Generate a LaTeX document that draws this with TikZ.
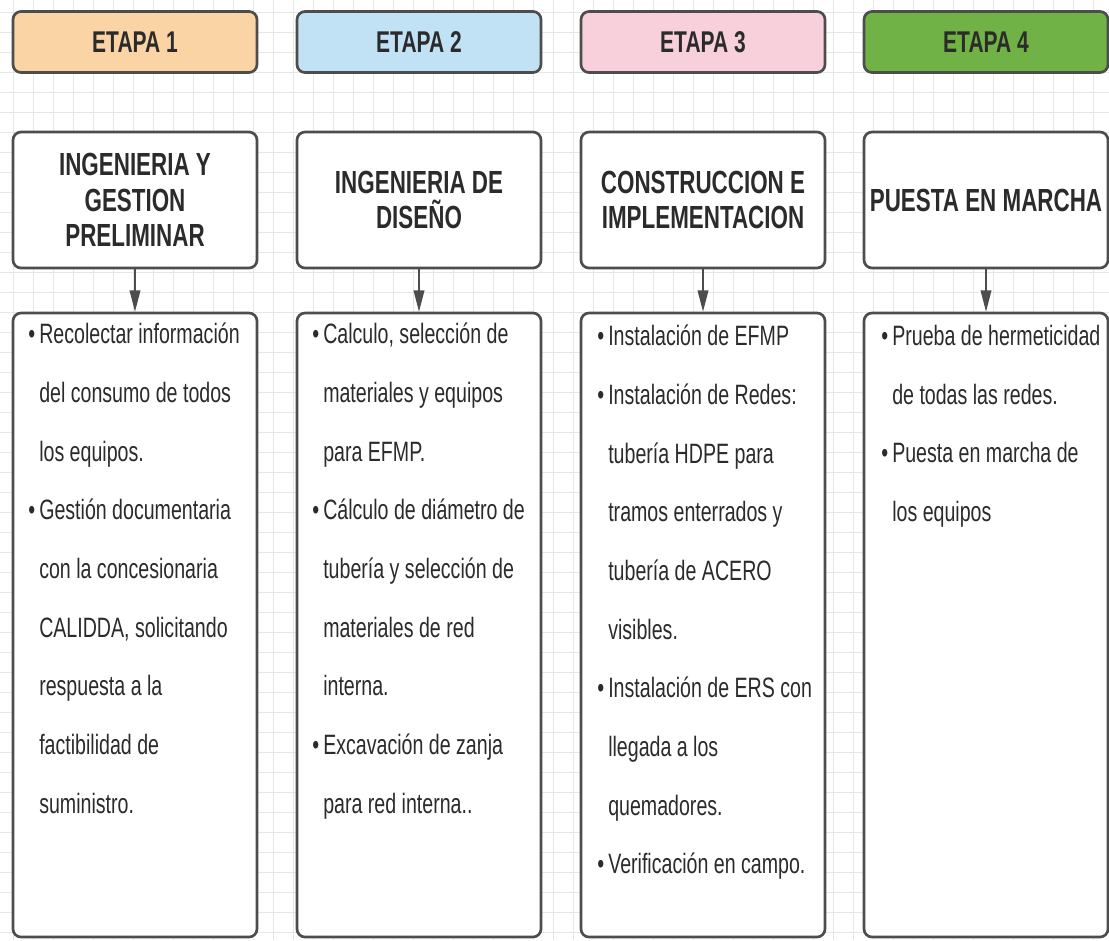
\documentclass[tikz,border=0pt]{standalone}
\usepackage{fontspec}
\setmainfont[FakeStretch=0.7]{Liberation Sans}
\usetikzlibrary{arrows.meta}
\definecolor{borde}{HTML}{4D4D4D}
\definecolor{texto}{HTML}{2B2B2B}
\definecolor{gris}{HTML}{E6E6E6}
\definecolor{naranja}{HTML}{FAD4A5}
\definecolor{celeste}{HTML}{C0E2F4}
\definecolor{rosado}{HTML}{F7D0DB}
\definecolor{verde}{HTML}{70B245}
\newcommand{\punto}{\llap{\textbullet\hspace{3pt}}}
\begin{document}
\begin{tikzpicture}[x=0.75pt,y=-0.75pt,
	etapa/.style={draw=borde,line width=2pt,rounded corners=6pt,minimum width=183pt,minimum height=45.75pt,text=texto,font=\bfseries\fontsize{22.5}{26}\selectfont},
	titulo/.style={draw=borde,line width=2pt,rounded corners=6pt,fill=white,minimum width=183pt,minimum height=102pt,align=center,text=texto,font=\bfseries\fontsize{24}{26.5}\selectfont},
	cuerpo/.style={draw=borde,line width=2pt,rounded corners=6pt,fill=white,minimum width=183pt,minimum height=468pt},
	lista/.style={anchor=north west,inner sep=0pt,align=left,text=texto,font=\fontsize{21}{44}\selectfont},
	flecha/.style={draw=borde,line width=1.2pt,-{Triangle[length=16pt,width=8pt]}},
	rejilla/.style={draw=gris,line width=0.6pt}]
	\useasboundingbox (0,0) rectangle (1109,940);
	\fill[white] (0,0) rectangle (1109,940);
	\foreach \gx in {13,33,...,1113}
		\draw[rejilla] (\gx,0) -- (\gx,940);
	\foreach \gy in {12,32,...,932}
		\draw[rejilla] (0,\gy) -- (1109,\gy);
	\node[etapa,fill=naranja] (h1) at (135,42) {ETAPA 1};
	\node[etapa,fill=celeste] (h2) at (419,42) {ETAPA 2};
	\node[etapa,fill=rosado] (h3) at (703,42) {ETAPA 3};
	\node[etapa,fill=verde] (h4) at (986,42) {ETAPA 4};
	\node[titulo] (t1) at (135,200) {INGENIERIA Y\\GESTION\\PRELIMINAR};
	\node[titulo] (t2) at (419,200) {INGENIERIA DE\\DISEÑO};
	\node[titulo] (t3) at (703,200) {CONSTRUCCION E\\IMPLEMENTACION};
	\node[titulo] (t4) at (986,200) {PUESTA EN MARCHA};
	\node[cuerpo] (b1) at (135,625) {};
	\node[cuerpo] (b2) at (419,625) {};
	\node[cuerpo] (b3) at (703,625) {};
	\node[cuerpo] (b4) at (986,625) {};
	\draw[flecha] (t1) -- (b1);
	\draw[flecha] (t2) -- (b2);
	\draw[flecha] (t3) -- (b3);
	\draw[flecha] (t4) -- (b4);
	\node[lista] (l1) at (39,323) {\punto Recolectar información\\del consumo de todos\\los equipos.\\\punto Gestión documentaria\\con la concesionaria\\CALIDDA, solicitando\\respuesta a la\\factibilidad de\\suministro.};
	\node[lista] (l2) at (323,323) {\punto Calculo, selección de\\materiales y equipos\\para EFMP.\\\punto Cálculo de diámetro de\\tubería y selección de\\materiales de red\\interna.\\\punto Excavación de zanja\\para red interna..};
	\node[lista] (l3) at (608,325) {\punto Instalación de EFMP\\\punto Instalación de Redes:\\tubería HDPE para\\tramos enterrados y\\tubería de ACERO\\visibles.\\\punto Instalación de ERS con\\llegada a los\\quemadores.\\\punto Verificación en campo.};
	\node[lista] (l4) at (892,325) {\punto Prueba de hermeticidad\\de todas las redes.\\\punto Puesta en marcha de\\los equipos};
\end{tikzpicture}
\end{document}
